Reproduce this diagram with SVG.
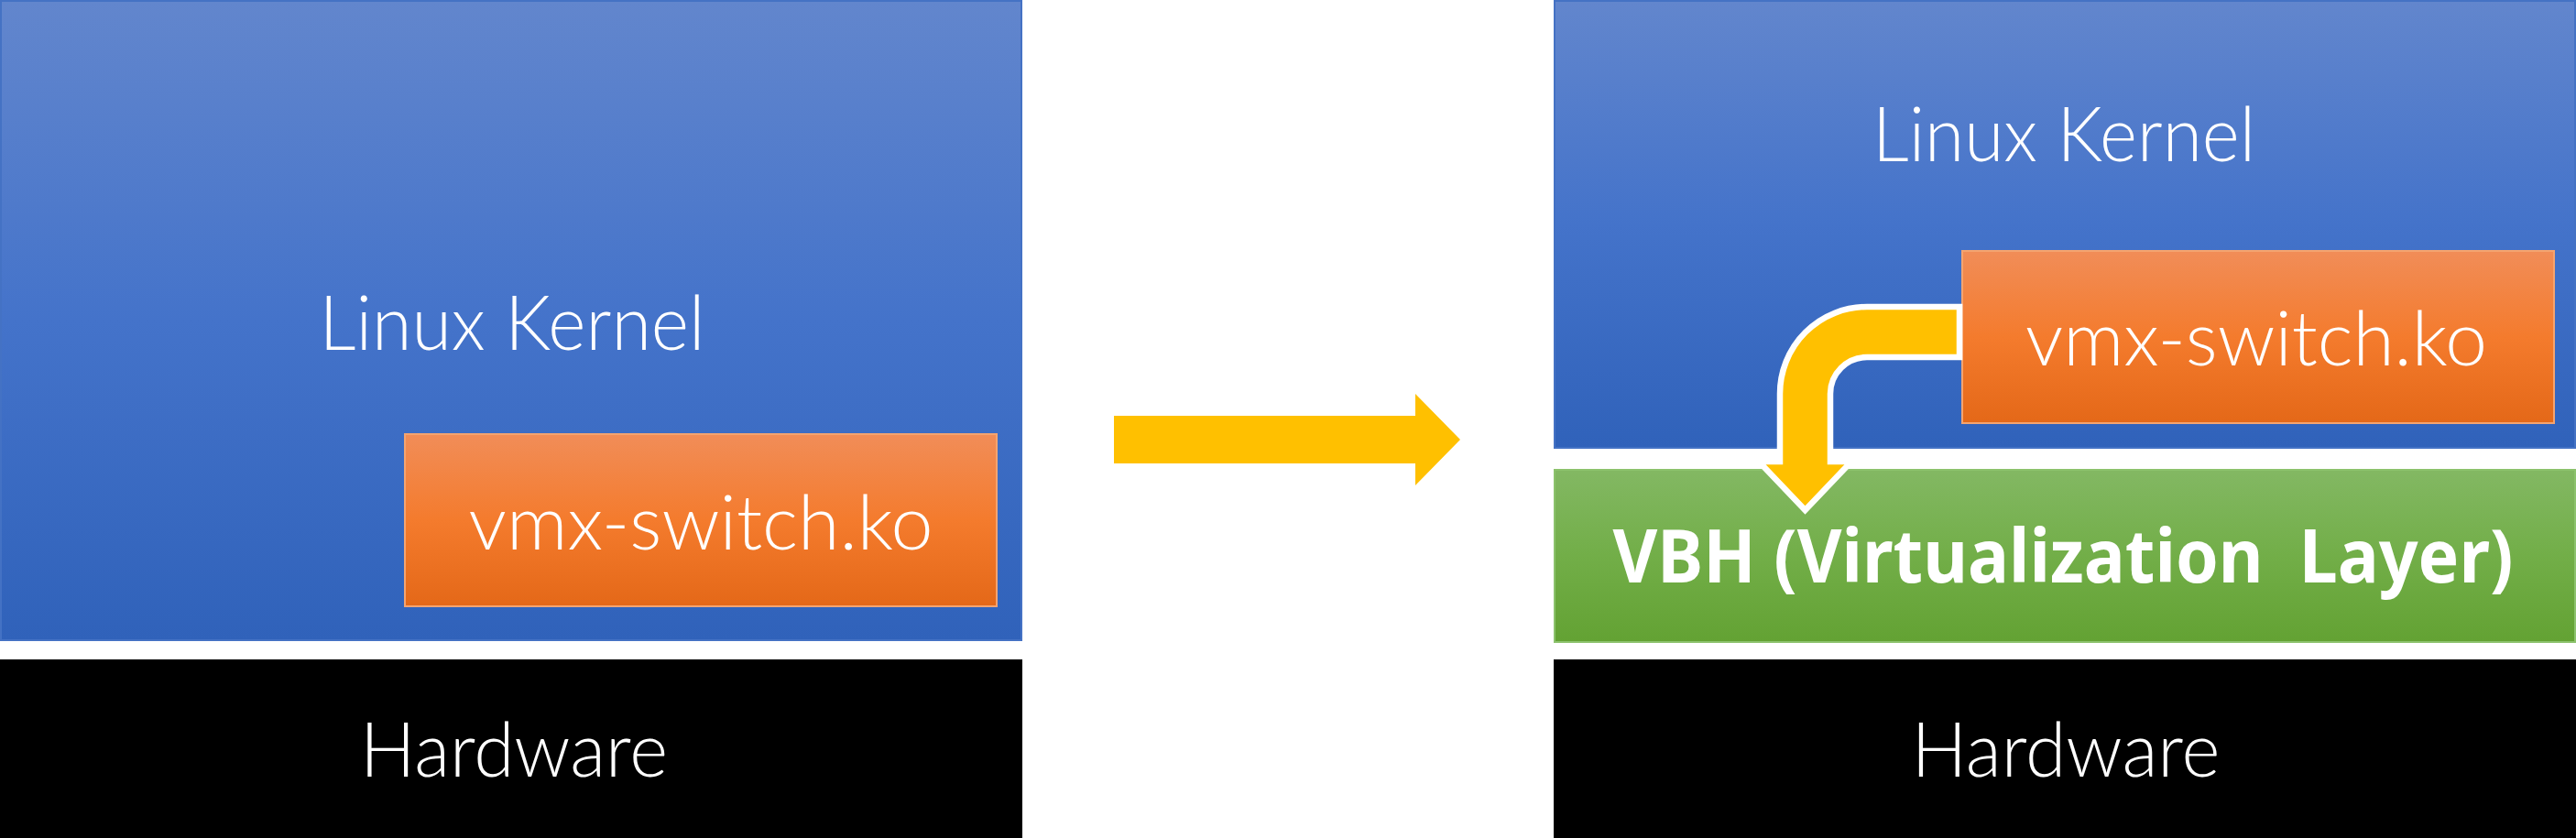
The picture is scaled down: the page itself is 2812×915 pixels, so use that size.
<svg xmlns="http://www.w3.org/2000/svg" width="2812" height="915" viewBox="0 0 2812 915">
<defs>
<linearGradient id="gBlue" x1="0" y1="0" x2="0" y2="1">
<stop offset="0" stop-color="#6286CD"/><stop offset="0.5" stop-color="#4473CA"/><stop offset="1" stop-color="#3062BA"/>
</linearGradient>
<linearGradient id="gOrange" x1="0" y1="0" x2="0" y2="1">
<stop offset="0" stop-color="#F18D58"/><stop offset="0.5" stop-color="#F47B2D"/><stop offset="1" stop-color="#E46818"/>
</linearGradient>
<linearGradient id="gGreen" x1="0" y1="0" x2="0" y2="1">
<stop offset="0" stop-color="#83B863"/><stop offset="0.5" stop-color="#72AE48"/><stop offset="1" stop-color="#63A233"/>
</linearGradient>
</defs>
<style>
.blue{fill:url(#gBlue);stroke:#4472C4;stroke-width:2}
.orange{fill:url(#gOrange);stroke:#F4A470;stroke-width:2}
.green{fill:url(#gGreen);stroke:#8CC26C;stroke-width:2}
.black{fill:#000}
.t{font-family:"Lato","Liberation Sans",sans-serif;font-weight:300;font-size:83px;fill:#fff;text-anchor:middle}
.tb{font-family:"Noto Sans","Liberation Sans",sans-serif;font-weight:bold;font-size:80px;fill:#fff;text-anchor:middle}
.arrow{fill:#FFC000}
</style>
<rect width="2812" height="915" fill="#fff"/>
<g id="left-kernel">
<rect class="blue" x="1" y="1" width="1114" height="698"/>
<text class="t" x="559" y="382" textLength="421" lengthAdjust="spacingAndGlyphs">Linux Kernel</text>
</g>
<g id="left-vmx">
<rect class="orange" x="442" y="474" width="646" height="188"/>
<text class="t" x="765" y="600" textLength="507" lengthAdjust="spacingAndGlyphs">vmx-switch.ko</text>
</g>
<g id="left-hardware">
<rect class="black" x="0" y="720" width="1116" height="195"/>
<text class="t" x="561" y="848" textLength="336" lengthAdjust="spacingAndGlyphs">Hardware</text>
</g>
<g id="right-kernel">
<rect class="blue" x="1697" y="1" width="1114" height="488"/>
<text class="t" x="2253" y="176" textLength="418" lengthAdjust="spacingAndGlyphs">Linux Kernel</text>
</g>
<g id="right-vmx">
<rect class="orange" x="2142" y="274" width="646" height="188"/>
<text class="t" x="2463" y="399" textLength="504" lengthAdjust="spacingAndGlyphs">vmx-switch.ko</text>
</g>
<g id="right-vbh">
<rect class="green" x="1697" y="513" width="1114" height="188"/>
<text class="tb" x="2252" y="636" textLength="983" lengthAdjust="spacingAndGlyphs" xml:space="preserve">VBH (Virtualization  Layer)</text>
</g>
<g id="right-hardware">
<rect class="black" x="1696" y="720" width="1116" height="195"/>
<text class="t" x="2255" y="848" textLength="337" lengthAdjust="spacingAndGlyphs">Hardware</text>
</g>
<g id="connectors">
<path class="arrow" d="M1216 454 L1545 454 L1545 430 L1594 480 L1545 530 L1545 506 L1216 506 Z"/>
<path class="arrow" stroke="#fff" stroke-width="6.5" stroke-linejoin="miter" d="M2139 335 L2038 335 A95 95 0 0 0 1943 430 L1943 504 L1920 504 L1970.5 557 L2021 504 L1998 504 L1998 430 A40 40 0 0 1 2038 390 L2139 390 Z"/>
</g>
</svg>
